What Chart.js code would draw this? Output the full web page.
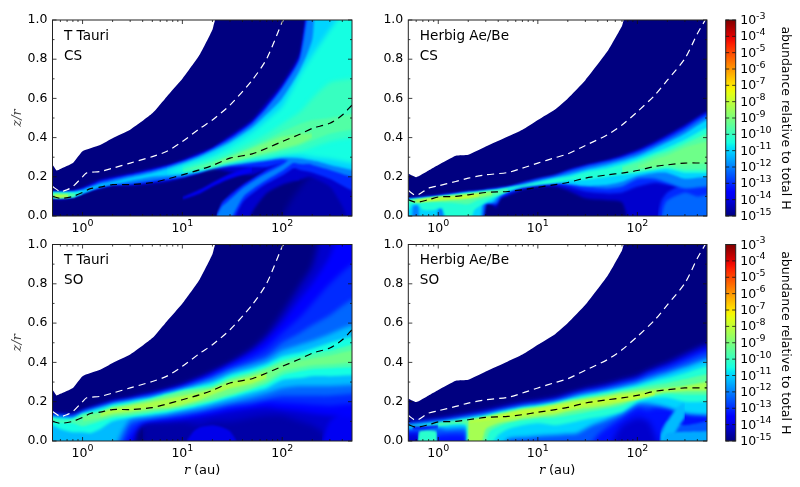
<!DOCTYPE html>
<html lang="en">
<head>
<meta charset="UTF-8">
<title>CS and SO abundance</title>
<script src="https://cdn.jsdelivr.net/npm/chart.js"></script>
<style>
  html, body { margin: 0; padding: 0; background: #fff; }
  canvas { position: absolute; }
</style>
</head>
<body>
<canvas id="ttCs" width="360" height="238" style="left:0;top:0"></canvas>
<canvas id="hbCs" width="345" height="238" style="left:370px;top:0"></canvas>
<canvas id="ttSo" width="360" height="262" style="left:0;top:225px"></canvas>
<canvas id="hbSo" width="345" height="262" style="left:370px;top:225px"></canvas>
<canvas id="barTop" width="85" height="238" style="left:715px;top:0"></canvas>
<canvas id="barBottom" width="85" height="262" style="left:715px;top:225px"></canvas>
<script>
// tick labels
var xTicks = [1, 10, 100];
var xTickPowers = [0, 1, 2];
var xMinorTicks = [.6, .7, .8, .9, 2, 3, 4, 5, 6, 7, 8, 9, 20, 30, 40, 50, 60, 70, 80, 90, 200, 300, 400];
var yTicks = [0, .2, .4, .6, .8, 1];
var yMinorTicks = [.1, .3, .5, .7, .9];
var barTicks = [-15, -14, -13, -12, -11, -10, -9, -8, -7, -6, -5, -4, -3];
var barRange = [-15, -3];
var barName = 'abundance relative to total H';

// edge of the model grid and the two dashed curves, [r, z/r]
var ttTop = [[.4,.26],[.5,.26],[.55,.232],[.6,.24],[.8,.27],[1,.33],[1.5,.362],[2,.397],[3,.44],[5,.524],[7,.61],[10,.7],[15,.825],[20,.95],[22,1.01],[600,1.01]];
var ttWhite = [[.5,.15],[.6,.125],[.7,.134],[.8,.15],[1,.2],[1.1,.22],[1.5,.227],[2,.244],[3,.27],[5,.303],[7,.33],[10,.38],[15,.447],[20,.49],[30,.566],[50,.693],[70,.803],[100,.99],[103,1]];
var ttBlack = [[.5,.1],[.6,.09],[.8,.1],[1,.12],[1.2,.14],[1.5,.147],[2,.16],[3,.16],[5,.17],[7,.188],[10,.21],[15,.236],[20,.258],[30,.295],[50,.317],[70,.346],[100,.38],[150,.417],[200,.447],[300,.473],[400,.515],[500,.566]];
var hbTop = [[.4,.215],[.5,.215],[.6,.198],[.8,.232],[1,.26],[1.5,.307],[2,.312],[3,.354],[5,.405],[7,.44],[10,.49],[15,.545],[20,.6],[30,.693],[50,.84],[70,.97],[75,1.01],[600,1.01]];
var hbWhite = [[.5,.13],[.6,.105],[.8,.142],[1,.154],[1.5,.176],[2,.193],[3,.21],[5,.222],[7,.244],[10,.27],[15,.298],[20,.317],[30,.36],[50,.414],[70,.464],[100,.532],[150,.617],[200,.693],[300,.803],[400,.93],[480,1]];
var hbBlack = [[.5,.083],[.6,.07],[.8,.083],[1,.097],[1.5,.1],[2,.108],[3,.12],[5,.125],[7,.134],[10,.146],[15,.16],[20,.171],[30,.193],[50,.21],[70,.219],[100,.232],[150,.253],[200,.261],[300,.27],[500,.27]];

// abundance bands, rows are [r, lower z/r, upper z/r]
var ttCsBase = [[100,0,0],[130,0,.1],[200,0,.22],[300,0,.3],[500,0,.3]];
var ttCsFan14 = [[.5,.09,.125],[.6,.085,.125],[.8,.095,.13],[1,.115,.145],[1.2,.13,.165],[1.5,.14,.185],[2,.155,.2],[3,.155,.218],[5,.165,.244],[7,.175,.26],[10,.195,.286],[15,.22,.325],[20,.24,.35],[30,.225,.41],[50,.21,.49],[70,.235,.58],[100,.2,.675],[150,.185,.83],[190,.2,1],[300,.15,1],[400,.05,1],[500,0,1]];
var ttCsRidge14 = [[22,0,0],[30,0,.11],[45,0,.175],[50,.02,.185],[70,.117,.24],[100,.16,.3],[150,.185,.3]];
var ttCsStripe = [[10,.085,.095],[15,.115,.135],[20,.15,.17],[30,.19,.215],[50,.225,.255]];
var ttCsFan13 = [[.5,.092,.123],[.6,.088,.123],[.8,.096,.127],[1,.115,.14],[1.2,.13,.155],[1.5,.143,.178],[2,.158,.192],[3,.16,.21],[5,.172,.236],[7,.182,.255],[10,.198,.28],[15,.222,.315],[20,.243,.345],[30,.25,.4],[50,.25,.48],[70,.25,.56],[100,.265,.66],[150,.235,.81],[190,.225,1],[300,.19,1],[500,.13,1]];
var ttCsRidge13 = [[22,0,0],[25,0,.07],[30,0,.105],[41,.075,.16],[65,.155,.225],[103,.21,.28],[142,.26,.34]];
var ttCsFan12 = [[.5,.095,.122],[.6,.09,.122],[.8,.098,.125],[1,.115,.135],[1.2,.13,.15],[1.5,.145,.17],[2,.16,.185],[3,.165,.205],[5,.18,.23],[7,.19,.25],[10,.2,.275],[15,.225,.31],[20,.245,.34],[30,.26,.39],[50,.27,.47],[70,.28,.55],[100,.29,.65],[150,.265,.8],[190,.265,1],[200,.26,1],[300,.235,1],[500,.2,1]];
var ttCsRidge12 = [[22,0,0],[25,0,.05],[28,0,.07],[41,.1,.145],[65,.175,.21],[103,.235,.265],[142,.29,.33]];
var ttCsFan11 = [[.5,.092,.12],[.8,.098,.122],[1,.115,.13],[1.2,.13,.145],[1.5,.15,.16],[2,.163,.172],[3,.18,.195],[5,.2,.22],[7,.205,.24],[10,.215,.265],[15,.228,.3],[20,.248,.33],[30,.265,.375],[50,.28,.45],[70,.29,.52],[100,.3,.6],[150,.295,.74],[200,.285,.9],[220,.28,1],[300,.26,1],[500,.235,1]];
var ttCsFan105 = [[7,.22,.225],[10,.22,.255],[20,.25,.31],[30,.27,.36],[50,.29,.43],[70,.3,.49],[100,.31,.56],[150,.31,.72],[200,.3,.82],[300,.29,.95],[500,.27,1]];
var ttCsBlob105 = [[.5,.095,.118],[.8,.098,.118],[1,.115,.125]];
var ttCsFan10 = [[10,.225,.245],[20,.25,.29],[30,.27,.325],[50,.29,.38],[70,.3,.42],[100,.315,.47],[150,.33,.53],[200,.35,.6],[300,.38,.68],[500,.4,.7]];
var ttCsFan96 = [[10,.228,.232],[20,.25,.275],[30,.275,.31],[50,.3,.355],[70,.315,.39],[100,.335,.43],[150,.36,.47],[200,.385,.49],[300,.42,.5],[500,.44,.52]];
var ttCsBlob95 = [[.5,.095,.115],[.85,.098,.114]];
var ttCsFan91 = [[20,.262,.268],[30,.28,.3],[50,.305,.345],[70,.325,.375],[100,.345,.405],[150,.37,.42],[200,.4,.42]];
var ttCsBlob8 = [[.52,.092,.11],[.72,.095,.108]];
var ttCsBands = [[-14.6,ttCsBase],[-14.2,ttCsFan14],[-14.2,ttCsRidge14],[-13.8,ttCsStripe],[-13,ttCsFan13],[-13,ttCsRidge13],[-12,ttCsFan12],[-12,ttCsRidge12],[-11,ttCsFan11],[-10.5,ttCsFan105],[-10.5,ttCsBlob105],[-10,ttCsFan10],[-9.6,ttCsFan96],[-9.5,ttCsBlob95],[-9.1,ttCsFan91],[-8,ttCsBlob8]];

var hbCsMain14 = [[.5,0,.09],[1,0,.105],[2,0,.125],[2.7,0,.13],[3,.06,.135],[3.5,.06,.14],[3.8,.04,.143],[4.2,.09,.146],[5,.105,.15],[7,.135,.17],[10,.15,.19],[15,.15,.21],[20,.13,.235],[30,.09,.26],[50,.08,.286],[70,.07,.31],[85,0,.325],[100,0,.337],[150,0,.38],[200,0,.413],[300,0,.464],[500,0,.532]];
var hbCsMain13 = [[.5,0,.088],[2,0,.122],[2.7,0,.128],[3,.063,.132],[3.8,.06,.14],[4.2,.095,.143],[5,.11,.148],[7,.14,.167],[10,.155,.187],[15,.16,.207],[20,.15,.23],[30,.125,.255],[50,.115,.28],[70,.12,.3],[100,.15,.33],[150,.17,.37],[200,.16,.405],[300,.15,.455],[500,.15,.525]];
var hbCsCorner13 = [[160,0,0],[175,0,.08],[200,0,.12],[300,0,.17],[500,0,.2]];
var hbCsMain12 = [[.5,0,.086],[1,0,.1],[2,0,.12],[2.7,0,.125],[3,.065,.13],[3.8,.065,.135],[4.2,.1,.14],[5,.125,.145],[7,.15,.165],[10,.165,.185],[15,.17,.205],[20,.165,.225],[30,.15,.25],[50,.14,.275],[70,.15,.295],[100,.19,.32],[150,.19,.36],[200,.17,.39],[300,.14,.44],[500,.15,.51]];
var hbCsCorner12 = [[175,0,0],[185,0,.05],[200,0,.08],[300,0,.12],[400,0,.1],[500,0,.11]];
var hbCsMain11 = [[.5,0,.085],[.54,0,.085],[.56,.05,.087],[.63,.05,.088],[.66,0,.09],[.95,0,.098],[1,.035,.1],[1.1,.035,.102],[1.2,0,.105],[2,0,.12],[2.6,0,.125],[2.8,.06,.127],[3.5,.07,.13],[4,.1,.135],[5,.125,.145],[7,.15,.155],[10,.16,.175],[15,.168,.195],[20,.165,.21],[30,.155,.235],[50,.16,.26],[70,.175,.28],[100,.205,.305],[150,.22,.345],[200,.22,.375],[300,.19,.42],[500,.2,.49]];
var hbCsMain103 = [[.5,.03,.083],[.55,.06,.084],[.63,.06,.085],[.7,.03,.088],[.9,.03,.094],[1,.04,.098],[1.1,.04,.1],[1.3,0,.105],[2,0,.118],[2.3,.03,.12],[2.6,.05,.124],[3,.07,.128],[4,.105,.134],[5,.128,.142],[7,.148,.158],[10,.16,.172],[15,.17,.19],[20,.18,.2],[30,.185,.225],[50,.2,.245],[70,.21,.265],[100,.22,.29],[150,.235,.325],[200,.24,.35],[300,.22,.39],[500,.22,.45]];
var hbCsLeft96 = [[.5,.068,.082],[1,.07,.097],[1.5,.065,.106],[2,.06,.114],[2.5,.08,.12],[3,.09,.125],[4,.11,.132],[5,.128,.138]];
var hbCsRight96 = [[70,.22,.25],[100,.23,.275],[150,.24,.31],[200,.25,.33],[300,.235,.37],[500,.235,.42]];
var hbCsRight92 = [[100,.245,.255],[150,.25,.29],[200,.26,.31],[300,.26,.35],[500,.27,.38]];
var hbCsLeft86 = [[.55,.07,.08],[1,.078,.097],[1.5,.083,.105],[2,.088,.11],[3,.103,.12],[3.5,.11,.125]];
var hbCsLeft78 = [[.6,.072,.078],[1,.083,.095],[1.5,.088,.1],[2,.093,.108],[2.6,.103,.114]];
var hbCsBands = [[-14.2,hbCsMain14],[-13,hbCsMain13],[-13,hbCsCorner13],[-12,hbCsMain12],[-12.3,hbCsCorner12],[-11,hbCsMain11],[-10.3,hbCsMain103],[-9.6,hbCsLeft96],[-9.6,hbCsRight96],[-9.2,hbCsRight92],[-8.6,hbCsLeft86],[-7.8,hbCsLeft78]];

var ttSoBase = [[4,0,.08],[15,0,.15],[50,0,.2],[100,0,.25],[500,0,.3]];
var ttSo142 = [[.5,0,.135],[.6,0,.125],[.8,0,.128],[1,0,.15],[1.5,0,.18],[2,0,.2],[3,0,.215],[3.5,.05,.225],[4,.08,.23],[5,.09,.24],[7,.095,.26],[10,.1,.285],[15,.08,.32],[20,.1,.35],[30,.1,.395],[50,.12,.47],[70,.13,.54],[100,.13,.65],[150,.1,.79],[200,.08,.89],[260,.04,1],[300,0,1],[500,0,1]];
var ttSo136 = [[.5,0,.133],[.8,0,.127],[1,0,.148],[1.5,0,.177],[2,0,.197],[3,0,.212],[3.5,.07,.222],[4,.09,.228],[5,.1,.238],[10,.11,.28],[20,.135,.345],[30,.15,.39],[50,.165,.455],[70,.17,.515],[100,.16,.6],[150,.15,.72],[200,.14,.8],[300,.13,.94],[400,.125,1],[500,.12,1]];
var ttSo13 = [[.5,0,.131],[.8,0,.125],[1,0,.146],[1.5,0,.175],[2,0,.195],[2.4,0,.2],[3,.03,.21],[4,.095,.225],[5,.105,.235],[10,.125,.275],[20,.15,.335],[30,.17,.38],[50,.185,.43],[70,.2,.475],[100,.195,.55],[150,.19,.63],[200,.185,.7],[300,.18,.8],[500,.19,.9]];
var ttSo123 = [[.5,0,.128],[.8,0,.123],[1,0,.145],[1.5,0,.172],[2.2,0,.195],[3,.08,.207],[4,.105,.22],[5,.115,.23],[10,.135,.27],[15,.15,.3],[20,.165,.325],[30,.185,.365],[50,.2,.405],[70,.215,.435],[100,.23,.5],[150,.23,.55],[200,.23,.59],[300,.23,.64],[500,.24,.72]];
var ttSo113 = [[.5,0,.125],[.8,0,.12],[1,0,.143],[1.5,0,.17],[2,0,.19],[2.5,.05,.198],[3,.11,.205],[5,.125,.225],[7,.135,.245],[10,.15,.265],[15,.165,.29],[20,.18,.31],[30,.2,.35],[50,.225,.385],[70,.245,.41],[100,.27,.46],[150,.28,.49],[200,.28,.51],[300,.28,.545],[500,.285,.59]];
var ttSo105 = [[.5,.08,.12],[.6,.06,.117],[.8,.045,.115],[1,.045,.14],[1.2,.04,.15],[1.5,.06,.165],[2,.1,.185],[3,.12,.2],[5,.135,.22],[7,.145,.24],[10,.16,.26],[15,.18,.28],[20,.195,.295],[30,.22,.335],[50,.25,.365],[70,.27,.39],[100,.31,.43],[150,.32,.45],[200,.33,.47],[300,.33,.5],[500,.335,.53]];
var ttSo97 = [[.5,.1,.115],[.6,.093,.105],[.8,.09,.11],[1,.075,.135],[1.5,.1,.15],[2,.12,.175],[3,.13,.19],[5,.145,.215],[7,.155,.235],[10,.17,.255],[15,.19,.27],[20,.205,.28],[30,.23,.32],[50,.265,.35],[70,.29,.375],[100,.335,.41],[150,.355,.43],[200,.365,.445],[300,.37,.46],[500,.375,.49]];
var ttSo92 = [[1,.1,.125],[1.5,.115,.145],[2,.13,.17],[3,.14,.185],[5,.155,.21],[7,.165,.23],[10,.18,.25],[15,.2,.262],[20,.215,.27],[30,.24,.31],[50,.275,.34],[70,.305,.365],[100,.355,.395],[150,.375,.41],[200,.385,.42],[300,.39,.435],[500,.4,.46]];
var ttSo83 = [[1.5,.125,.14],[2,.14,.165],[3,.15,.18],[5,.165,.2],[7,.17,.215],[10,.185,.23],[15,.21,.248],[20,.235,.265],[30,.268,.3],[50,.293,.327],[70,.322,.348]];
var ttSoPatch = [[11,0,0],[13,0,.05],[15,0,.07],[20,0,.08],[25,0,.07],[30,0,.05],[35,0,0]];
var ttSoCorner = [[250,0,0],[300,0,.1],[400,0,.15],[500,0,.19]];
var ttSoBands = [[-14.6,ttSoBase],[-14.2,ttSo142],[-13.9,ttSoPatch],[-13.8,ttSoCorner],[-13.6,ttSo136],[-13,ttSo13],[-12.3,ttSo123],[-11.3,ttSo113],[-10.5,ttSo105],[-9.7,ttSo97],[-9.2,ttSo92],[-8.3,ttSo83]];

var hbSo142 = [[.5,0,.09],[1,0,.107],[2,0,.132],[3,0,.15],[5,0,.175],[7,0,.19],[10,0,.2],[15,0,.215],[20,0,.235],[30,0,.26],[50,0,.285],[70,0,.305],[100,0,.327],[150,0,.37],[200,0,.395],[300,0,.437],[500,0,.49]];
var hbSo133 = [[.5,.03,.088],[.65,.03,.093],[.7,0,.095],[1,0,.105],[2,0,.13],[3,0,.147],[5,0,.172],[7,0,.187],[10,0,.197],[15,0,.212],[20,0,.232],[30,0,.257],[50,0,.28],[60,.03,.29],[70,.08,.3],[100,.12,.32],[130,.1,.35],[150,.03,.36],[170,0,.375],[200,0,.385],[300,0,.43],[500,0,.48]];
var hbSo125 = [[.5,.05,.086],[.65,.05,.092],[.7,.01,.094],[.9,.01,.1],[1,.03,.103],[1.9,.03,.125],[2,0,.127],[3,0,.143],[5,0,.167],[7,0,.182],[10,0,.192],[15,0,.207],[20,0,.227],[30,0,.252],[40,.03,.262],[50,.07,.272],[70,.12,.292],[100,.17,.312],[130,.16,.34],[150,.17,.35],[200,.17,.37],[300,.15,.405],[500,.15,.45]];
var hbSoCorner125 = [[165,0,0],[175,0,.06],[200,0,.1],[300,0,.08],[500,0,.1]];
var hbSo11 = [[.5,.065,.08],[1,.07,.097],[1.2,.06,.1],[1.9,.06,.118],[2,0,.12],[3,0,.135],[4,0,.15],[5,.01,.16],[8,.02,.18],[10,.025,.185],[15,.03,.2],[20,.035,.215],[25,.04,.23],[35,.08,.245],[50,.11,.26],[70,.14,.275],[100,.19,.295],[130,.19,.315],[170,.18,.335],[200,.17,.345],[300,.14,.375],[500,.13,.415]];
var hbSoArch = [[170,0,.03],[200,0,.1],[250,.06,.17],[300,.12,.2]];
var hbSoFloor = [[180,0,0],[200,0,.04],[500,0,.05]];
var hbSo103 = [[.5,.07,.075],[1,.075,.093],[1.9,.08,.113],[2,0,.115],[3,0,.13],[4,.03,.145],[5,.06,.155],[7,.08,.17],[10,.09,.18],[15,.08,.195],[20,.09,.21],[30,.11,.23],[50,.13,.25],[70,.15,.265],[100,.2,.28],[150,.22,.305],[200,.22,.32],[300,.2,.345],[500,.2,.38]];
var hbSoBlob = [[.62,0,0],[.65,0,.05],[.95,0,.05],[.98,0,0]];
var hbSo95 = [[1,.08,.09],[1.9,.085,.108],[2,0,.11],[2.8,0,.12],[3.3,.05,.13],[5,.09,.15],[7,.105,.165],[10,.115,.175],[15,.12,.19],[20,.13,.205],[30,.145,.22],[50,.165,.24],[70,.18,.255],[100,.21,.27],[150,.23,.285],[200,.24,.295],[300,.235,.315],[500,.235,.34]];
var hbSo88 = [[2,0,.105],[2.6,0,.115],[3,.06,.122],[4,.09,.135],[5,.1,.145],[7,.115,.16],[10,.125,.17],[15,.135,.185],[20,.15,.2],[30,.165,.215],[50,.18,.23],[70,.195,.245],[100,.215,.255],[150,.24,.265],[200,.25,.27],[300,.255,.28],[500,.255,.3]];
var hbSo8 = [[2,.095,.1],[3,.105,.118],[5,.12,.14],[7,.13,.155],[10,.14,.165],[15,.15,.18],[20,.165,.19],[30,.18,.205],[50,.195,.22],[70,.205,.23],[100,.215,.24],[150,.235,.25]];
var hbSoNotch = [[.55,.06,.072],[.7,.06,.074],[1,.068,.079]];
var hbSoBands = [[-14.2,hbSo142],[-13.3,hbSo133],[-12.5,hbSo125],[-12.5,hbSoCorner125],[-11,hbSo11],[-11.3,hbSoArch],[-11.5,hbSoFloor],[-10.3,hbSo103],[-10.2,hbSoBlob],[-9.5,hbSo95],[-8.4,hbSo88],[-8,hbSo8],[-13.8,hbSoNotch]];

Chart.defaults.font.family = '"DejaVu Sans"';
Chart.defaults.color = '#000';
Chart.defaults.animation = false;

// the usual jet colormap, 10^-15 to 10^-3
function ramp(t, pts) {
    for (var i = 1; i < pts.length; i++) {
        if (t <= pts[i][0]) {
            var a = pts[i - 1], b = pts[i];
            return a[1] + (b[1] - a[1]) * (t - a[0]) / (b[0] - a[0]);
        }
    }
    return pts[pts.length - 1][1];
}
function jet(t) {
    var r = ramp(t, [[0,0],[.35,0],[.66,1],[.89,1],[1,.5]]);
    var g = ramp(t, [[0,0],[.125,0],[.375,1],[.64,1],[.91,0],[1,0]]);
    var b = ramp(t, [[0,.5],[.11,1],[.34,1],[.65,0],[1,0]]);
    return 'rgb(' + Math.round(r * 255) + ',' + Math.round(g * 255) + ',' + Math.round(b * 255) + ')';
}
function levelColor(level) {
    return jet((level - barRange[0]) / (barRange[1] - barRange[0]));
}

function hiddenLine(points, extra) {
    return Object.assign({
        data: points.map(p => ({ x: p[0], y: p[1] })),
        pointRadius: 0, borderWidth: 0, tension: .2, fill: false
    }, extra);
}

// bands run a little past the frame so the blur does not fade at the edges
function padBand(rows) {
    var out = rows.map(p => [p[0], p[1] === 0 ? -.05 : p[1], p[2] >= 1 ? 1.1 : p[2]]);
    if (rows[0][0] === .5) out.unshift([.4, out[0][1], out[0][2]]);
    if (rows[rows.length - 1][0] === 500) out.push([650, out[out.length - 1][1], out[out.length - 1][2]]);
    return out;
}

// wide bands get a wider blur, thin streaks would vanish otherwise
function bandBlur(rows) {
    var widths = rows.map(p => p[2] - p[1]).sort((a, b) => a - b);
    var mid = widths[Math.floor(widths.length / 2)];
    return Math.max(.8, Math.min(3.5, mid * 196 * .07));
}

// fill plugin runs before ours, so the filter has to be set when the previous dataset ends
var softBands = {
    id: 'softBands',
    afterDatasetDraw(chart, args) {
        var next = chart.data.datasets[args.index - 1];
        chart.ctx.filter = next && next.soft ? 'blur(' + next.soft + 'px)' : 'none';
    },
    afterDatasetsDraw(chart) {
        chart.ctx.filter = 'none';
    }
};

function drawTicks(ctx, area, opt) {
    ctx.strokeStyle = '#111';
    ctx.lineWidth = 0.8;
    ctx.beginPath();
    (opt.x || []).forEach(t => {
        ctx.moveTo(t[0], area.top); ctx.lineTo(t[0], area.top + t[1]);
        ctx.moveTo(t[0], area.bottom); ctx.lineTo(t[0], area.bottom - t[1]);
    });
    (opt.y || []).forEach(t => {
        ctx.moveTo(area.left, t[0]); ctx.lineTo(area.left + t[1], t[0]);
        ctx.moveTo(area.right, t[0]); ctx.lineTo(area.right - t[1], t[0]);
    });
    ctx.stroke();
    ctx.strokeStyle = '#222';
    ctx.lineWidth = 1;
    ctx.strokeRect(area.left, area.top, area.right - area.left, area.bottom - area.top);
}

// "10" with a real raised exponent, chart.js tick labels cannot do this
function drawPower(ctx, x, y, power, center) {
    ctx.font = '12.5px "DejaVu Sans"';
    var base = ctx.measureText('10').width;
    ctx.font = '9.5px "DejaVu Sans"';
    var sup = ctx.measureText(String(power)).width;
    var left = center ? x - (base + sup) / 2 : x;
    ctx.font = '12.5px "DejaVu Sans"';
    ctx.fillText('10', left, y);
    ctx.font = '9.5px "DejaVu Sans"';
    ctx.fillText(String(power), left + base, y - 5.5);
}

var panelFrame = {
    id: 'panelFrame',
    afterDraw(chart, args, opts) {
        var ctx = chart.ctx, area = chart.chartArea, sx = chart.scales.x, sy = chart.scales.y;
        drawTicks(ctx, area, {
            x: xTicks.map(v => [sx.getPixelForValue(v), 4]).concat(xMinorTicks.map(v => [sx.getPixelForValue(v), 2])),
            y: yTicks.map(v => [sy.getPixelForValue(v), 4]).concat(yMinorTicks.map(v => [sy.getPixelForValue(v), 2]))
        });
        ctx.save();
        ctx.fillStyle = '#000';
        ctx.textAlign = 'left';
        ctx.textBaseline = 'alphabetic';
        xTicks.forEach((v, i) => drawPower(ctx, sx.getPixelForValue(v), area.bottom + 15.5, xTickPowers[i], true));
        ctx.font = '13.6px "DejaVu Sans"';
        ctx.fillText(opts.lines[0], area.left + 11.5, area.top + 19.5);
        ctx.fillText(opts.lines[1], area.left + 11.5, area.top + 39.5);
        if (opts.rTitleX) {
            var y = area.bottom + 33;
            ctx.font = 'italic 13px "DejaVu Serif"';
            ctx.fillText('r', opts.rTitleX, y);
            ctx.font = '13px "DejaVu Sans"';
            ctx.fillText('(au)', opts.rTitleX + 10, y);
        }
        ctx.restore();
    }
};

function makePanel(id, bands, topEdge, whiteLine, blackLine, lines, opt) {
    var pairs = [];
    bands.forEach(b => {
        var rows = padBand(b[1]);
        var blur = bandBlur(b[1]);
        pairs.unshift(
            hiddenLine(rows.map(p => [p[0], p[1]]), { soft: blur }),
            hiddenLine(rows.map(p => [p[0], p[2]]), { soft: blur, fill: '-1', backgroundColor: levelColor(b[0]) })
        );
    });
    var lineStyle = { pointRadius: 0, borderWidth: 1.2, borderDash: [7, 5], tension: .25, fill: false };
    var all = [
        Object.assign({ data: blackLine.map(p => ({ x: p[0], y: p[1] })), borderColor: '#000' }, lineStyle),
        Object.assign({ data: whiteLine.map(p => ({ x: p[0], y: p[1] })), borderColor: '#fff' }, lineStyle)
    ].concat(pairs);
    all.push(hiddenLine(topEdge, { fill: 'origin', backgroundColor: levelColor(-15), tension: .15 }));

    return new Chart(document.getElementById(id), {
        type: 'line',
        data: { datasets: all },
        options: {
            responsive: false,
            parsing: { xAxisKey: 'x', yAxisKey: 'y' },
            layout: { padding: { top: opt.top, right: 8 } },
            plugins: { legend: { display: false }, tooltip: { enabled: false }, panelFrame: { lines: lines, rTitleX: opt.rTitleX } },
            scales: {
                x: {
                    type: 'logarithmic', min: .5, max: 500,
                    grid: { display: false, drawTicks: false }, border: { display: false },
                    afterBuildTicks: s => { s.ticks = xTicks.map(v => ({ value: v })); },
                    afterFit: s => { s.height = opt.bottom; },
                    ticks: { display: false }
                },
                y: {
                    min: 0, max: 1,
                    grid: { display: false, drawTicks: false }, border: { display: false },
                    afterBuildTicks: s => { s.ticks = yTicks.map(v => ({ value: v })); },
                    afterFit: s => { s.width = opt.left; },
                    title: {
                        display: opt.yTitle, text: 'z/r', color: '#444',
                        font: { family: '"DejaVu Serif"', style: 'italic', size: 13 },
                        padding: { top: 10, bottom: 0 }
                    },
                    ticks: { padding: 5, font: { size: 12.5 }, callback: v => v.toFixed(1) }
                }
            }
        },
        plugins: [softBands, panelFrame]
    });
}

var barFrame = {
    id: 'barFrame',
    afterDraw(chart) {
        var ctx = chart.ctx, area = chart.chartArea, sy = chart.scales.y;
        drawTicks(ctx, area, { y: barTicks.map(v => [sy.getPixelForValue(v), 3.5]) });
        ctx.save();
        ctx.fillStyle = '#000';
        ctx.textAlign = 'left';
        ctx.textBaseline = 'alphabetic';
        barTicks.forEach(v => drawPower(ctx, area.right + 4.5, sy.getPixelForValue(v) + 4, v, false));
        ctx.restore();
    }
};

function makeBar(id, top, bottom) {
    return new Chart(document.getElementById(id), {
        type: 'bar',
        data: {
            labels: [barName],
            datasets: [{
                data: [barRange],
                categoryPercentage: 1, barPercentage: 1,
                backgroundColor: c => {
                    var area = c.chart.chartArea;
                    if (!area) return '#000';
                    var g = c.chart.ctx.createLinearGradient(0, area.bottom, 0, area.top);
                    for (var i = 0; i <= 40; i++) g.addColorStop(i / 40, jet(i / 40));
                    return g;
                }
            }]
        },
        options: {
            responsive: false,
            layout: { padding: { top: top, left: 10.7, bottom: bottom } },
            plugins: { legend: { display: false }, tooltip: { enabled: false } },
            scales: {
                x: { display: false },
                y: {
                    position: 'right', min: barRange[0], max: barRange[1],
                    grid: { display: false, drawTicks: false }, border: { display: false },
                    afterBuildTicks: s => { s.ticks = barTicks.map(v => ({ value: v })); },
                    afterFit: s => { s.width = 64.3; },
                    title: { display: true, text: barName, font: { size: 12.5 }, padding: { top: 7, bottom: 0 } },
                    ticks: { display: false }
                }
            }
        },
        plugins: [barFrame]
    });
}

makePanel('ttCs', ttCsBands, ttTop, ttWhite, ttBlack, ['T Tauri', 'CS'], { left: 52.5, top: 20, bottom: 22, yTitle: true });
makePanel('hbCs', hbCsBands, hbTop, hbWhite, hbBlack, ['Herbig Ae/Be', 'CS'], { left: 38.3, top: 20, bottom: 22, yTitle: false });
makePanel('ttSo', ttSoBands, ttTop, ttWhite, ttBlack, ['T Tauri', 'SO'], { left: 52.5, top: 19.5, bottom: 46, yTitle: true, rTitleX: 184 });
makePanel('hbSo', hbSoBands, hbTop, hbWhite, hbBlack, ['Herbig Ae/Be', 'SO'], { left: 38.3, top: 19.5, bottom: 46, yTitle: false, rTitleX: 169 });
makeBar('barTop', 20, 22);
makeBar('barBottom', 19.5, 46);
</script>
</body>
</html>
